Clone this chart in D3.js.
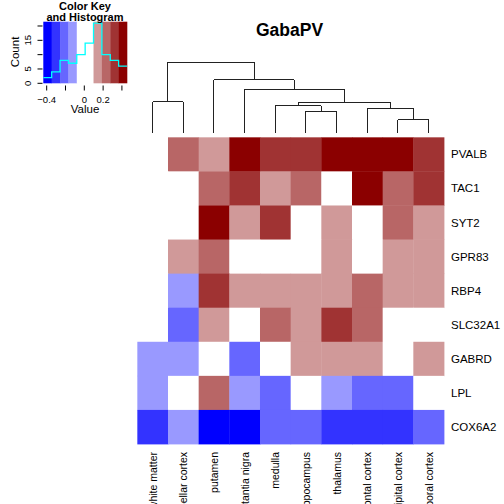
<!DOCTYPE html>
<html><head><meta charset="utf-8">
<script src="https://cdn.jsdelivr.net/npm/d3@7"></script>
<style>body{margin:0;background:#fff}svg{display:block}text{font-family:"Liberation Sans",Arial,Helvetica,sans-serif}</style>
</head><body>
<script>
const title = "GabaPV";
const genes = ["PVALB","TAC1","SYT2","GPR83","RBP4","SLC32A1","GABRD","LPL","COX6A2"];
const regions = ["white matter","cerebellar cortex","putamen","substantia nigra","medulla","hippocampus","thalamus","frontal cortex","occipital cortex","temporal cortex"];
const values = [
  [-0.02, 0.24, 0.15, 0.42, 0.31, 0.33, 0.454, 0.43, 0.40, 0.30],
  [-0.05, 0.03, 0.22, 0.34, 0.12, 0.25, 0.06, 0.39, 0.21, 0.32],
  [-0.04, 0.07, 0.40, 0.16, 0.29, 0.04, 0.13, 0.08, 0.24, 0.15],
  [-0.01, 0.14, 0.20, 0.05, 0.02, 0.08, 0.11, 0.06, 0.16, 0.12],
  [-0.06, -0.13, 0.30, 0.13, 0.17, 0.15, 0.12, 0.21, 0.14, 0.12],
  [-0.03, -0.22, 0.11, 0.03, 0.26, 0.15, 0.35, 0.22, 0.07, 0.04],
  [-0.10, -0.14, -0.05, -0.20, -0.02, 0.13, 0.16, 0.11, 0.05, 0.17],
  [-0.15, -0.07, 0.23, -0.11, -0.24, -0.04, -0.09, -0.19, -0.23, 0.02],
  [-0.31, -0.12, -0.436, -0.37, -0.18, -0.21, -0.29, -0.27, -0.32, -0.20]
];
const palette = ["#0000FF","#3333FF","#6666FF","#9999FF","#FFFFFF","#FFFFFF","#D09999","#B86666","#A03333","#8B0000"];
// column dendrogram (merge heights, relative)
const dendro = {h:1.0, children:[
  {h:0.445, children:[{leaf:"white matter"},{leaf:"cerebellar cortex"}]},
  {h:0.751, children:[{leaf:"putamen"},
    {h:0.62, children:[{leaf:"substantia nigra"},
      {h:0.437, children:[
        {h:0.389, children:[{leaf:"medulla"},{h:0.31, children:[{leaf:"hippocampus"},{leaf:"thalamus"}]}]},
        {h:0.352, children:[{leaf:"frontal cortex"},{h:0.19, children:[{leaf:"occipital cortex"},{leaf:"temporal cortex"}]}]}
      ]}
    ]}
  ]}
]};
const keyXTicks = [-0.4,-0.2,0,0.2,0.4];
const keyXLabels = [-0.4,0,0.2];
const keyYTicks = [0,5,10,15,20];
const keyYLabels = [0,5,15];

const W=504,H=504;
const svg=d3.select("body").append("svg").attr("width",W).attr("height",H);

const x=d3.scaleBand().domain(regions).range([137.33,444]).paddingInner(0).paddingOuter(0);
const y=d3.scaleBand().domain(genes).range([137.33,444]);
const allVals=values.flat();
const ext=d3.extent(allVals);
const color=d3.scaleQuantize().domain(ext).range(palette);

// heatmap cells
const cells=[];
values.forEach((row,i)=>row.forEach((v,j)=>cells.push({g:genes[i],r:regions[j],v})));
svg.append("g").selectAll("rect").data(cells).join("rect")
  .attr("x",d=>x(d.r)).attr("y",d=>y(d.g))
  .attr("width",x.bandwidth()+0.4).attr("height",y.bandwidth()+0.4)
  .attr("fill",d=>color(d.v));

// row labels
svg.append("g").selectAll("text").data(genes).join("text")
  .attr("x",451).attr("y",d=>y(d)+y.bandwidth()/2)
  .attr("dominant-baseline","central").attr("font-size",11.5).attr("fill","#000")
  .text(d=>d);
// column labels
svg.append("g").selectAll("text").data(regions).join("text")
  .attr("transform",d=>`translate(${x(d)+x.bandwidth()/2},452) rotate(-90)`)
  .attr("text-anchor","end").attr("dominant-baseline","central")
  .attr("font-size",10.5).attr("fill","#000").text(d=>d);

// dendrogram
const hy=d3.scaleLinear().domain([0,1]).range([133.3,62.3]);
const root=d3.hierarchy(dendro);
root.eachAfter(n=>{
  if(!n.children){n.px=x(n.data.leaf)+x.bandwidth()/2;n.hh=0;}
  else{n.px=(n.children[0].px+n.children[1].px)/2;n.hh=n.data.h;}
});
const segs=[];
root.each(n=>{
  if(n.children){
    const [a,b]=n.children;
    segs.push([a.px,hy(n.hh),b.px,hy(n.hh)]);
    segs.push([a.px,hy(n.hh),a.px,hy(a.hh)]);
    segs.push([b.px,hy(n.hh),b.px,hy(b.hh)]);
  }
});
svg.append("g").selectAll("line").data(segs).join("line")
  .attr("x1",d=>d[0]).attr("y1",d=>d[1]).attr("x2",d=>d[2]).attr("y2",d=>d[3])
  .attr("stroke","#222").attr("stroke-width",1).attr("shape-rendering","crispEdges");

// title
svg.append("text").attr("x",289.5).attr("y",35.5).attr("text-anchor","middle")
  .attr("font-size",17.5).attr("font-weight","bold").text(title);

// color key
const kx=d3.scaleLinear().domain(ext).range([43.3,127]);
const thresholds=color.thresholds();
const breaks=[ext[0],...thresholds,ext[1]];
const bins=d3.bin().domain(ext).thresholds(thresholds)(allVals);
const counts=bins.map(b=>b.length);
const ky=d3.scaleLinear().domain([0,21.5]).range([83.3,21.7]);
const key=svg.append("g");
key.selectAll("rect").data(palette).join("rect")
  .attr("x",(d,i)=>kx(breaks[i])).attr("y",21.7)
  .attr("width",(d,i)=>kx(breaks[i+1])-kx(breaks[i])+0.3).attr("height",83.3-21.7)
  .attr("fill",d=>d);
// histogram step line
const pts=[];
counts.forEach((c,i)=>{pts.push([kx(breaks[i]),ky(c)]);pts.push([kx(breaks[i+1]),ky(c)]);});
key.append("path").attr("d",d3.line()(pts)).attr("fill","none")
  .attr("stroke","#00FFFF").attr("stroke-width",1.3);
// x axis of key
key.selectAll(".xt").data(keyXTicks).join("line")
  .attr("x1",d=>kx(d)).attr("x2",d=>kx(d)).attr("y1",85.5).attr("y2",90.5)
  .attr("stroke","#000").attr("stroke-width",1);
key.selectAll(".xl").data(keyXLabels).join("text")
  .attr("x",d=>kx(d)).attr("y",102.5).attr("text-anchor","middle")
  .attr("font-size",9.5).text(d=>d3.format("")(d));
key.append("text").attr("x",85).attr("y",113).attr("text-anchor","middle")
  .attr("font-size",11.5).text("Value");
// y axis of key
key.selectAll(".yt").data(keyYTicks).join("line")
  .attr("x1",37.5).attr("x2",42.5).attr("y1",d=>ky(d)).attr("y2",d=>ky(d))
  .attr("stroke","#000").attr("stroke-width",1);
key.selectAll(".yl").data(keyYLabels).join("text")
  .attr("transform",d=>`translate(31,${ky(d)}) rotate(-90)`)
  .attr("text-anchor","middle").attr("font-size",9.5).text(d=>d);
key.append("text").attr("transform","translate(19,52) rotate(-90)")
  .attr("text-anchor","middle").attr("font-size",11.5).text("Count");
key.append("text").attr("x",85).attr("y",9.5).attr("text-anchor","middle")
  .attr("font-size",11).attr("font-weight","bold").text("Color Key");
key.append("text").attr("x",85).attr("y",20.5).attr("text-anchor","middle")
  .attr("font-size",11).attr("font-weight","bold").text("and Histogram");
</script>
</body></html>
